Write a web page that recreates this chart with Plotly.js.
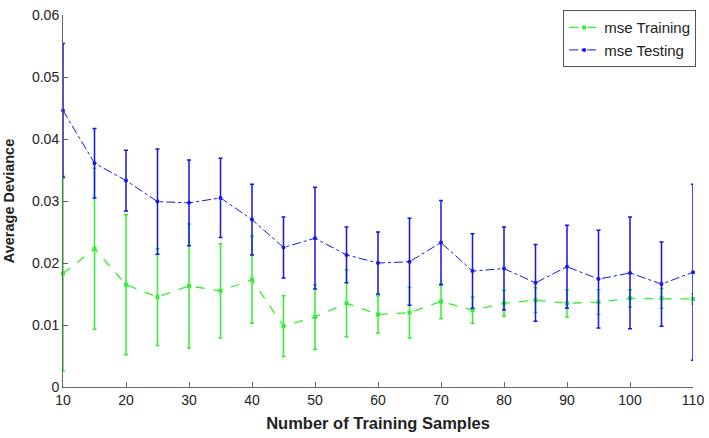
<!DOCTYPE html>
<html>
<head>
<meta charset="utf-8">
<script src="https://cdn.plot.ly/plotly-3.0.1.min.js"></script>
<style>html,body{margin:0;padding:0;background:#fff;}#chart{width:709px;height:438px;}</style>
</head>
<body>
<div id="chart"></div>
<script>
const samples = [10,15,20,25,30,35,40,45,50,55,60,65,70,75,80,85,90,95,100,105,110];
const trainMean = [0.0183,0.0223,0.0165,0.0145,0.0163,0.0155,0.0173,0.0098,0.0113,0.0135,0.0117,0.0120,0.0138,0.0124,0.0135,0.0140,0.0135,0.0137,0.0143,0.0143,0.0142];
const trainErr  = [0.0157,0.0130,0.0113,0.0078,0.0100,0.0076,0.0070,0.0049,0.0052,0.0054,0.0030,0.0041,0.0028,0.0021,0.0021,0.0020,0.0022,0.0020,0.0014,0.0016,0.0008];
const testMean  = [0.0446,0.0361,0.0333,0.0299,0.0297,0.0305,0.0270,0.0225,0.0240,0.0213,0.0200,0.0202,0.0233,0.0187,0.0191,0.0168,0.0194,0.0174,0.0184,0.0166,0.0185];
const testErr   = [0.0108,0.0056,0.0049,0.0085,0.0069,0.0064,0.0057,0.0049,0.0082,0.0045,0.0050,0.0070,0.0068,0.0060,0.0067,0.0062,0.0067,0.0079,0.0090,0.0068,0.0142];
const seriesNames = ['mse Training','mse Testing'];

const green = '#33ee33';
const blue = '#1515e8';

const traces = [
  {
    x: samples, y: trainMean, name: seriesNames[0], type: 'scatter', mode: 'lines+markers',
    line: {color: green, width: 1.3, dash: 'dash'},
    marker: {symbol: 'square', size: 4, color: green},
    error_y: {type: 'data', array: trainErr, visible: true, color: green, thickness: 1.5, width: 2},
    cliponaxis: false
  },
  {
    x: samples, y: testMean, name: seriesNames[1], type: 'scatter', mode: 'lines+markers',
    line: {color: blue, width: 1, dash: 'dashdot'},
    marker: {symbol: 'circle', size: 4, color: blue},
    error_y: {type: 'data', array: testErr, visible: true, color: blue, thickness: 1.5, width: 2},
    cliponaxis: false
  }
];

const layout = {
  width: 709, height: 438,
  margin: {l: 63, r: 16, t: 10, b: 51},
  paper_bgcolor: '#fff', plot_bgcolor: '#fff',
  font: {family: 'Liberation Sans, Arial, sans-serif', size: 14, color: '#222'},
  showlegend: true,
  legend: {x: 1.005, xanchor: 'right', y: 1.013, yanchor: 'top', bordercolor: '#555', borderwidth: 1, bgcolor: '#fff', font: {size: 15, color: '#222'}, itemwidth: 30},
  xaxis: {
    range: [10, 110], tickmode: 'linear', tick0: 10, dtick: 10,
    showgrid: false, zeroline: false, showline: true, linecolor: '#666', linewidth: 1,
    ticks: 'inside', ticklen: 5, tickcolor: '#666',
    title: {text: '<b>Number of Training Samples</b>', font: {size: 16.5, color: '#222'}, standoff: 10}
  },
  yaxis: {
    range: [0, 0.06], tickmode: 'linear', tick0: 0, dtick: 0.01,
    showgrid: false, zeroline: false, showline: true, linecolor: '#666', linewidth: 1,
    ticks: 'inside', ticklen: 5, tickcolor: '#666',
    title: {text: '<b>Average Deviance</b>', font: {size: 14.5, color: '#222'}, standoff: 13}
  }
};

Plotly.newPlot('chart', traces, layout, {displayModeBar: false, staticPlot: true});
</script>
</body>
</html>
